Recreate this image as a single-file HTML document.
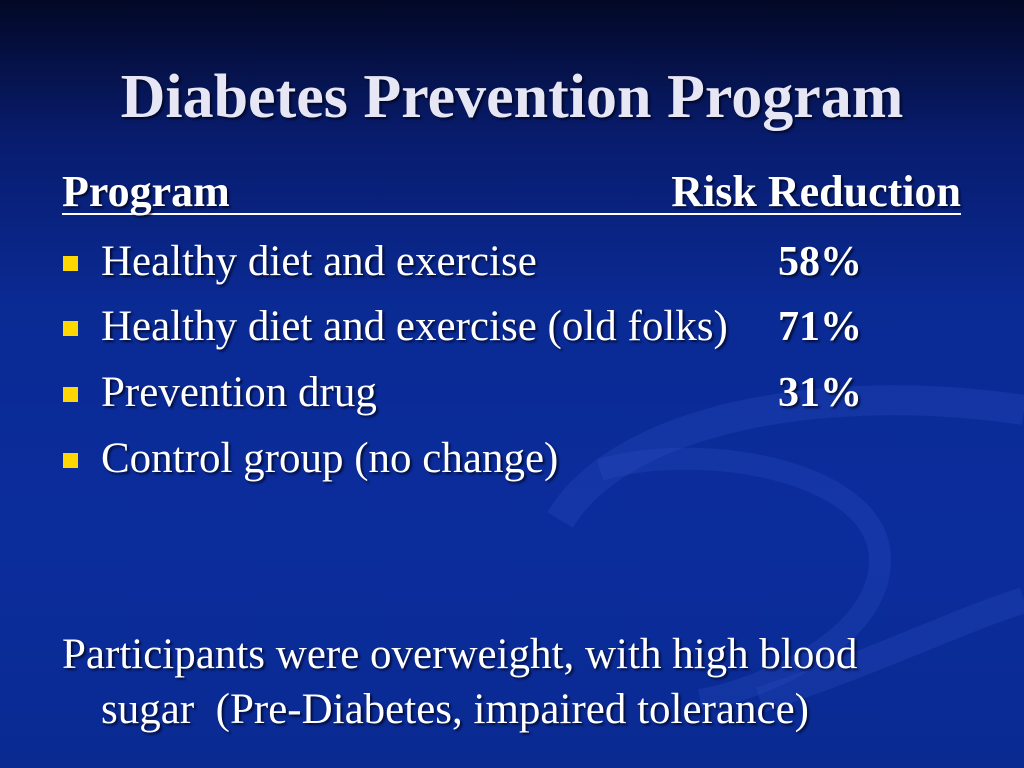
<!DOCTYPE html>
<html><head><meta charset="utf-8"><style>
html,body{margin:0;padding:0;}
body{width:1024px;height:768px;overflow:hidden;position:relative;
background:linear-gradient(180deg,#030826 0%,#081c6e 18%,#0a2a94 40%,#0b2d9c 70%,#0a2a92 100%);
font-family:"Liberation Serif",serif;color:#fff;}
.t{position:absolute;white-space:nowrap;text-shadow:2px 2px 2px rgba(0,0,20,0.7);}
.bul{position:absolute;width:15px;height:15px;background:#ffd800;}
svg{position:absolute;left:0;top:0;}
</style></head><body>
<svg width="1024" height="768">
<g fill="none" stroke="#2a4cc0" stroke-opacity="0.3">
<path d="M560 520 C 620 420, 820 380, 1024 410" stroke-width="30"/>
<path d="M600 470 C 700 440, 880 470, 880 560 C 880 640, 760 690, 700 700" stroke-width="22"/>
<path d="M760 700 C 880 660, 960 620, 1024 600" stroke-width="26"/>
</g>
</svg>
<div class="t" style="left:0;width:1024px;text-align:center;top:62px;font-size:62px;font-weight:bold;color:#e6e6f5;">Diabetes Prevention Program</div>
<div class="t" style="left:62px;top:171px;width:899px;font-size:44px;font-weight:bold;border-bottom:2px solid #fff;height:42px;line-height:42px;">
<span>Program</span>
<span style="position:absolute;right:0;">Risk Reduction</span></div>
<div class="bul" style="left:63px;top:256px;"></div>
<div class="t" style="left:101px;top:237px;font-size:43px;">Healthy diet and exercise</div>
<div class="t" style="left:778px;top:238px;font-size:42px;font-weight:bold;">58%</div>
<div class="bul" style="left:63px;top:321px;"></div>
<div class="t" style="left:101px;top:302px;font-size:43px;">Healthy diet and exercise (old folks)</div>
<div class="t" style="left:778px;top:303px;font-size:42px;font-weight:bold;">71%</div>
<div class="bul" style="left:63px;top:387px;"></div>
<div class="t" style="left:101px;top:368px;font-size:43px;">Prevention drug</div>
<div class="t" style="left:778px;top:369px;font-size:42px;font-weight:bold;">31%</div>
<div class="bul" style="left:63px;top:453px;"></div>
<div class="t" style="left:101px;top:434px;font-size:43px;">Control group (no change)</div>
<div class="t" style="left:62px;top:630px;font-size:43px;">Participants were overweight, with high blood</div>
<div class="t" style="left:101px;top:685px;font-size:43px;">sugar&nbsp; (Pre-Diabetes, impaired tolerance)</div>
</body></html>
